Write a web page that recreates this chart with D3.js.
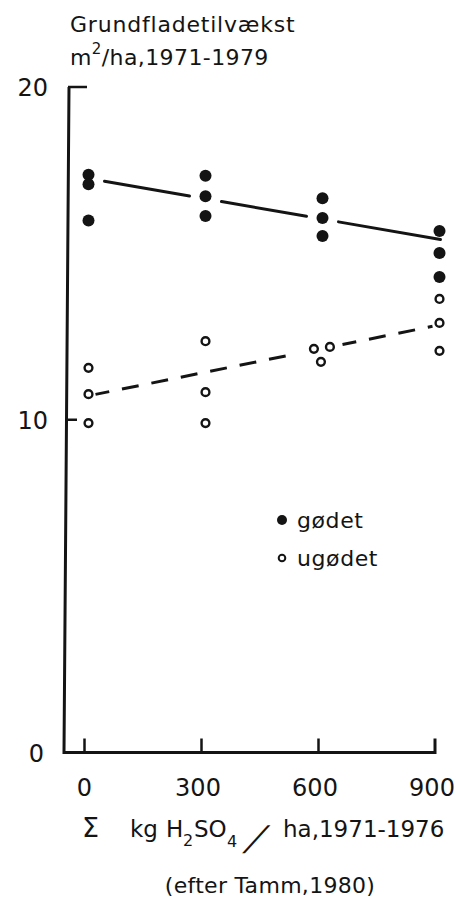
<!DOCTYPE html>
<html>
<head>
<meta charset="utf-8">
<script src="https://cdn.jsdelivr.net/npm/d3@7"></script>
<style>
  html, body { margin: 0; padding: 0; background: #fff; }
  svg { display: block; }
  text { font-family: "DejaVu Sans", sans-serif; fill: #141414; }
</style>
</head>
<body>
<svg id="chart" width="456" height="899"></svg>
<script>
// Basal area growth (m²/ha, 1971-1979) against accumulated H2SO4 dose (kg/ha, 1971-1976)
const xTicks = [0, 300, 600, 900];
const yTicks = [0, 10, 20];
const seriesNames = ["gødet", "ugødet"];

// fertilized plots
const fertilizedDose   = [0, 0, 0, 300, 300, 300, 600, 600, 600, 900, 900, 900];
const fertilizedGrowth = [17.36, 17.08, 15.99, 17.33, 16.72, 16.12, 16.66, 16.06, 15.52, 15.67, 15.01, 14.29];

// unfertilized plots
const unfertilizedDose   = [0, 0, 0, 300, 300, 300, 578, 619, 596, 900, 900, 900];
const unfertilizedGrowth = [11.56, 10.77, 9.90, 12.36, 10.83, 9.90, 12.13, 12.19, 11.74, 13.63, 12.91, 12.07];

// fitted trend lines: value at dose 0 and at dose 900
const trendDose = [0, 900];
const fertilizedTrend = [17.25, 15.42];
const unfertilizedTrend = [10.72, 12.85];

const svg = d3.select("#chart");
const ink = "#141414";
const font = '"DejaVu Sans", sans-serif';

const x = d3.scaleLinear().domain([0, 900]).range([88.5, 439.5]);
const y = d3.scaleLinear().domain([0, 20]).range([752.5, 87]);

// ---- axes ----
const axisShift = -4.5;   // hand-drawn axis sits a little left of the marks
const axisG = svg.append("g").attr("transform", `translate(${axisShift},0)`);

// frame: y axis (slightly leaning) and x axis with raised end
const yTop = y(20), yBottom = y(0);
const xLeft = 64 - axisShift, xRight = x(900);
axisG.append("path")
  .attr("d", `M${xLeft + 5},${yTop} L${xLeft},${yBottom} L${xRight},${yBottom} L${xRight},${yBottom - 14}`)
  .attr("fill", "none").attr("stroke", ink).attr("stroke-width", 3)
  .attr("stroke-linejoin", "miter");

// x ticks + labels
const xAxis = d3.axisBottom(x).tickValues(xTicks).tickSizeInner(-14).tickSizeOuter(0)
  .tickPadding(26).tickFormat(d3.format("d"));
const gx = axisG.append("g").attr("transform", `translate(0,${yBottom})`).call(xAxis);
gx.select(".domain").remove();
gx.selectAll(".tick line").attr("stroke", ink).attr("stroke-width", 2.5)
  .filter(d => d === 900).remove();
gx.selectAll(".tick text").attr("font-size", 24).attr("dx", d => d === 0 ? 0 : -3.5)
  .style("font-family", font).attr("fill", ink);

// y ticks + labels
const yAxis = d3.axisLeft(y).tickValues(yTicks).tickSize(0).tickPadding(20)
  .tickFormat(d3.format("d"));
const gy = svg.append("g").attr("transform", `translate(68,0)`).call(yAxis);
gy.select(".domain").remove();
gy.selectAll(".tick line").remove();
gy.selectAll(".tick text").attr("font-size", 24).attr("dy", "0.36em")
  .attr("dx", d => d === 0 ? -4 : 0)
  .style("font-family", font).attr("fill", ink);

// inward tick marks on the y axis (longer at the top)
const yTickBase = d => d === 20 ? 68 : 66;
const yTickLen = d => d === 20 ? 19 : 11;
svg.append("g").selectAll("line").data(yTicks.filter(d => d > 0)).join("line")
  .attr("x1", d => yTickBase(d))
  .attr("x2", d => yTickBase(d) + yTickLen(d))
  .attr("y1", d => y(d)).attr("y2", d => y(d))
  .attr("stroke", ink).attr("stroke-width", 2.5);

// ---- trend lines ----
const trendAt = (t, d) => t[0] + (t[1] - t[0]) * (d - trendDose[0]) / (trendDose[1] - trendDose[0]);

function segment(trend, pxStart, pxEnd) {
  const d0 = x.invert(pxStart), d1 = x.invert(pxEnd);
  return d3.line().x(d => x(d)).y(d => y(trendAt(trend, d)))([d0, d1]);
}

// solid line for fertilized plots, broken around the dose clusters
const gap = 16;
const solidSegs = [
  [x(0) + gap, x(300) - gap],
  [x(300) + gap, x(600) - gap],
  [x(600) + gap, x(900) + 1]
];
svg.append("g").selectAll("path").data(solidSegs).join("path")
  .attr("d", s => segment(fertilizedTrend, s[0], s[1]))
  .attr("fill", "none").attr("stroke", ink).attr("stroke-width", 3).attr("stroke-linecap", "round");

// dashed line for unfertilized plots
const dashedSegs = [
  [x(0) + 7, x(600) - 30],
  [x(600) + 20, x(900) - 7]
];
svg.append("g").selectAll("path").data(dashedSegs).join("path")
  .attr("d", s => segment(unfertilizedTrend, s[0], s[1]))
  .attr("fill", "none").attr("stroke", ink).attr("stroke-width", 3)
  .attr("stroke-dasharray", "17,13").attr("stroke-dashoffset", 3);

// ---- points ----
svg.append("g").selectAll("circle").data(d3.zip(fertilizedDose, fertilizedGrowth)).join("circle")
  .attr("cx", d => x(d[0])).attr("cy", d => y(d[1])).attr("r", 6)
  .attr("fill", ink);

svg.append("g").selectAll("circle").data(d3.zip(unfertilizedDose, unfertilizedGrowth)).join("circle")
  .attr("cx", d => x(d[0])).attr("cy", d => y(d[1])).attr("r", 3.9)
  .attr("fill", "#fff").attr("stroke", ink).attr("stroke-width", 2.4);

// ---- legend ----
const legend = svg.append("g").attr("transform", "translate(282,520)");
legend.append("circle").attr("cx", 0).attr("cy", 0).attr("r", 5).attr("fill", ink);
legend.append("circle").attr("cx", 0).attr("cy", 38).attr("r", 3.3)
  .attr("fill", "#fff").attr("stroke", ink).attr("stroke-width", 2);
legend.selectAll("text").data(seriesNames).join("text")
  .attr("x", 15).attr("y", (d, i) => 8 + i * 38)
  .attr("font-size", 22).attr("letter-spacing", 0.6)
  .text(d => d);

// ---- y axis title ----
const yTitle = svg.append("g");
yTitle.append("text").attr("x", 70).attr("y", 32).attr("font-size", 22)
  .attr("letter-spacing", 0.8).text("Grundfladetilvækst");
const unit = yTitle.append("text").attr("x", 70).attr("y", 65).attr("font-size", 22)
  .attr("letter-spacing", 0.4);
unit.append("tspan").text("m");
unit.append("tspan").attr("font-size", 15).attr("dy", -11).text("2");
unit.append("tspan").attr("dy", 11).text("/");
unit.append("tspan").text("ha,1971-1979");

// ---- x axis title ----
const xTitle = svg.append("text").attr("y", 837).attr("font-size", 23);
xTitle.append("tspan").attr("x", 82).attr("font-size", 27).text("Σ");
xTitle.append("tspan").attr("x", 130).text("kg");
xTitle.append("tspan").attr("x", 166).text("H");
xTitle.append("tspan").attr("x", 183).attr("dy", 9).attr("font-size", 16).text("2");
xTitle.append("tspan").attr("x", 194).attr("dy", -9).text("SO");
xTitle.append("tspan").attr("x", 227).attr("dy", 10).attr("font-size", 16).text("4");
xTitle.append("tspan").attr("x", 283).attr("dy", -10).text("ha,1971-1976");

// long, shallow slash between the unit parts
svg.append("text")
  .attr("transform", "translate(244,850) skewX(-31)")
  .attr("font-size", 34)
  .text("/");

// ---- source note ----
svg.append("text").attr("x", 270).attr("y", 893).attr("text-anchor", "middle")
  .attr("font-size", 22).attr("letter-spacing", 0.3).text("(efter Tamm,1980)");
</script>
</body>
</html>
